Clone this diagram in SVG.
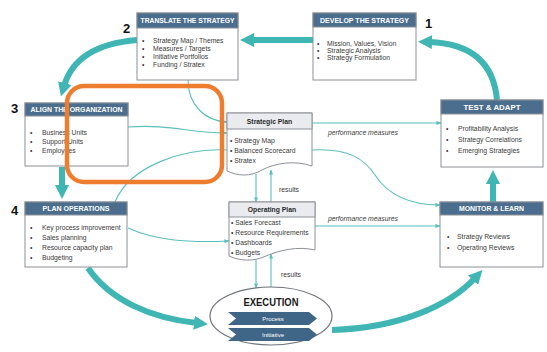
<svg xmlns="http://www.w3.org/2000/svg" width="547" height="352" viewBox="0 0 547 352">
<style>
.box{fill:#fff;stroke:#8c9096;stroke-width:1}
.hdr{fill:#4b6e8e;stroke:#8c9096;stroke-width:1}
.ht{font-family:"Liberation Sans",Arial,sans-serif;font-size:6.3px;font-weight:bold;fill:#fff;text-anchor:middle}
.bt{font-family:"Liberation Sans",Arial,sans-serif;font-size:6.8px;fill:#3a3a3a}
.doc{fill:#fff;stroke:#8c9096;stroke-width:1}
.dh{fill:#e9ebef;stroke:#8c9096;stroke-width:1}
.dt{font-family:"Liberation Sans",Arial,sans-serif;font-size:6.8px;font-weight:bold;fill:#2a2a2a;text-anchor:middle}
.num{font-family:"Liberation Sans",Arial,sans-serif;font-size:13px;font-weight:bold;fill:#111}
.lbl{font-family:"Liberation Sans",Arial,sans-serif;font-size:6.8px;font-style:italic;fill:#3a3a3a}
.res{font-family:"Liberation Sans",Arial,sans-serif;font-size:6.8px;fill:#3a3a3a}
.thick{fill:none;stroke:#3fb6b4;stroke-width:6;marker-end:url(#ah)}
.thin{fill:none;stroke:#5bbfbd;stroke-width:1.1}
.ta{marker-end:url(#as)}
.chev{fill:#3f6686}
.ct{font-family:"Liberation Sans",Arial,sans-serif;font-size:6px;fill:#fff;text-anchor:middle}
</style>
<defs>
<marker id="ah" viewBox="0 0 14 14" refX="3" refY="7" markerWidth="14" markerHeight="14" markerUnits="userSpaceOnUse" orient="auto">
<path d="M0,0 L14,7 L0,14 z" fill="#3fb6b4"/>
</marker>
<marker id="as" viewBox="0 0 6 6" refX="5.5" refY="3" markerWidth="5" markerHeight="5" markerUnits="userSpaceOnUse" orient="auto">
<path d="M0,0.5 L6,3 L0,5.5 z" fill="#5bbfbd"/>
</marker>
</defs>
<rect width="547" height="352" fill="#fff"/>

<g id="connectors">
<path class="thick" d="M313,40 L251,40"/>
<path class="thick" d="M497,100 Q492,44 429,42"/>
<path class="thick" d="M137,40 Q76,45 64,86"/>
<path class="thick" d="M62,167 L62,188"/>
<path class="thick" d="M88,268 C110,300 150,318 197,323"/>
<path class="thick" d="M332,330 C400,328 450,305 475,278"/>
<path class="thick" d="M493,202 L493,181"/>
<path class="thin ta" d="M188,80 C188,105 205,121 227,122"/>
<path class="thin ta" d="M128,127 C170,124 190,133 227,133"/>
<path class="thin" d="M227,150 C185,148 130,165 115,202"/>
<path class="thin ta" d="M128,228 C155,240 185,243 229,241"/>
<path class="thin ta" d="M312,123 L441,123"/>
<path class="thin ta" d="M312,150 C350,148 365,160 375,175 C390,198 415,205 440,205"/>
<path class="thin ta" d="M315,226 L440,226"/>
<path class="thin ta" d="M256,174 L256,202"/>
<path class="thin ta" d="M271,202 L271,170"/>
<path class="thin ta" d="M256,259 L256,288"/>
<path class="thin ta" d="M271,288 L271,254"/>
<text class="lbl" x="328" y="135">performance measures</text>
<text class="lbl" x="328" y="221">performance measures</text>
<text class="res" x="279" y="192">results</text>
<text class="res" x="281" y="277">results</text>
</g>

<g id="translate">
<rect class="box" x="137" y="13" width="101" height="67"/>
<rect class="hdr" x="137" y="13" width="101" height="15"/>
<text class="ht" x="187.5" y="23" textLength="94" lengthAdjust="spacingAndGlyphs">TRANSLATE THE STRATEGY</text>
<text class="bt" x="142" y="42.5">•</text><text class="bt" x="153" y="42.5">Strategy Map / Themes</text>
<text class="bt" x="142" y="50.5">•</text><text class="bt" x="153" y="50.5">Measures / Targets</text>
<text class="bt" x="142" y="58.5">•</text><text class="bt" x="153" y="58.5">Initiative Portfolios</text>
<text class="bt" x="142" y="66.5">•</text><text class="bt" x="153" y="66.5">Funding / Stratex</text>
<text class="num" x="123" y="33">2</text>
</g>

<g id="develop">
<rect class="box" x="313" y="13" width="103" height="67"/>
<rect class="hdr" x="313" y="13" width="103" height="14"/>
<text class="ht" x="364.5" y="22.5" textLength="89" lengthAdjust="spacingAndGlyphs">DEVELOP THE STRATEGY</text>
<text class="bt" x="317" y="45.5">•</text><text class="bt" x="327" y="45.5">Mission, Values, Vision</text>
<text class="bt" x="317" y="52.5">•</text><text class="bt" x="327" y="52.5">Strategic Analysis</text>
<text class="bt" x="317" y="59.5">•</text><text class="bt" x="327" y="59.5">Strategy Formulation</text>
<text class="num" x="425" y="28">1</text>
</g>

<g id="align">
<rect class="box" x="25" y="103" width="103" height="63"/>
<rect class="hdr" x="25" y="103" width="103" height="13"/>
<text class="ht" x="76.5" y="112" textLength="92" lengthAdjust="spacingAndGlyphs">ALIGN THE ORGANIZATION</text>
<text class="bt" x="30" y="134.5">•</text><text class="bt" x="42" y="134.5">Business Units</text>
<text class="bt" x="30" y="143.5">•</text><text class="bt" x="42" y="143.5">Support Units</text>
<text class="bt" x="30" y="153">•</text><text class="bt" x="42" y="153">Employees</text>
<text class="num" x="11" y="113">3</text>
</g>

<g id="strategic-plan">
<path class="doc" d="M227,113 H312 V166 C295,160 275,163 262,170 C250,177 238,176 227,171 Z"/>
<rect class="dh" x="227" y="113" width="85" height="16"/>
<text class="dt" x="269.5" y="123.5">Strategic Plan</text>
<text class="bt" x="230" y="143">• Strategy Map</text>
<text class="bt" x="230" y="153">• Balanced Scorecard</text>
<text class="bt" x="230" y="163">• Stratex</text>
</g>

<g id="test-adapt">
<rect class="box" x="441" y="100" width="102" height="67"/>
<rect class="hdr" x="441" y="100" width="102" height="14"/>
<text class="ht" x="492" y="109.5" textLength="57" lengthAdjust="spacingAndGlyphs">TEST &amp; ADAPT</text>
<text class="bt" x="446" y="131">•</text><text class="bt" x="458" y="131">Profitability Analysis</text>
<text class="bt" x="446" y="142">•</text><text class="bt" x="458" y="142">Strategy Correlations</text>
<text class="bt" x="446" y="153">•</text><text class="bt" x="458" y="153">Emerging Strategies</text>
</g>

<g id="plan-operations">
<rect class="box" x="25" y="202" width="102" height="65"/>
<rect class="hdr" x="25" y="202" width="102" height="13"/>
<text class="ht" x="76" y="211" textLength="67" lengthAdjust="spacingAndGlyphs">PLAN OPERATIONS</text>
<text class="bt" x="30" y="229.5">•</text><text class="bt" x="42" y="229.5">Key process improvement</text>
<text class="bt" x="30" y="239.5">•</text><text class="bt" x="42" y="239.5">Sales planning</text>
<text class="bt" x="30" y="249.5">•</text><text class="bt" x="42" y="249.5">Resource capacity plan</text>
<text class="bt" x="30" y="259.5">•</text><text class="bt" x="42" y="259.5">Budgeting</text>
<text class="num" x="11" y="215">4</text>
</g>

<g id="operating-plan">
<path class="doc" d="M229,202 H315 V250 C298,246 280,250 266,256 C253,262 240,261 229,256 Z"/>
<rect class="dh" x="229" y="202" width="86" height="15"/>
<text class="dt" x="272" y="211.5">Operating Plan</text>
<text class="bt" x="231" y="225">• Sales Forecast</text>
<text class="bt" x="231" y="235">• Resource Requirements</text>
<text class="bt" x="231" y="245">• Dashboards</text>
<text class="bt" x="231" y="255">• Budgets</text>
</g>

<g id="monitor-learn">
<rect class="box" x="440" y="202" width="103" height="65"/>
<rect class="hdr" x="440" y="202" width="103" height="13"/>
<text class="ht" x="491.5" y="211" textLength="65" lengthAdjust="spacingAndGlyphs">MONITOR &amp; LEARN</text>
<text class="bt" x="447" y="238.5">•</text><text class="bt" x="457" y="238.5">Strategy Reviews</text>
<text class="bt" x="447" y="249.5">•</text><text class="bt" x="457" y="249.5">Operating Reviews</text>
</g>

<g id="execution">
<ellipse cx="271" cy="316" rx="61" ry="29" fill="#fff" stroke="#6f747a" stroke-width="1.2"/>
<text x="271" y="306" font-family="'Liberation Sans',Arial,sans-serif" font-size="10.5" font-weight="bold" fill="#1a1a1a" text-anchor="middle" textLength="55" lengthAdjust="spacingAndGlyphs">EXECUTION</text>
<path class="chev" d="M228,312 L309,312 L317,318.5 L309,325 L228,325 L236,318.5 Z"/>
<text class="ct" x="273" y="320.7">Process</text>
<path class="chev" d="M228,328 L309,328 L317,334.5 L309,341 L228,341 L236,334.5 Z"/>
<text class="ct" x="273" y="336.7">Initiative</text>
</g>

<rect x="67" y="86" width="155" height="96" rx="17" ry="17" fill="none" stroke="#ee7d2f" stroke-width="4.5"/>
</svg>
